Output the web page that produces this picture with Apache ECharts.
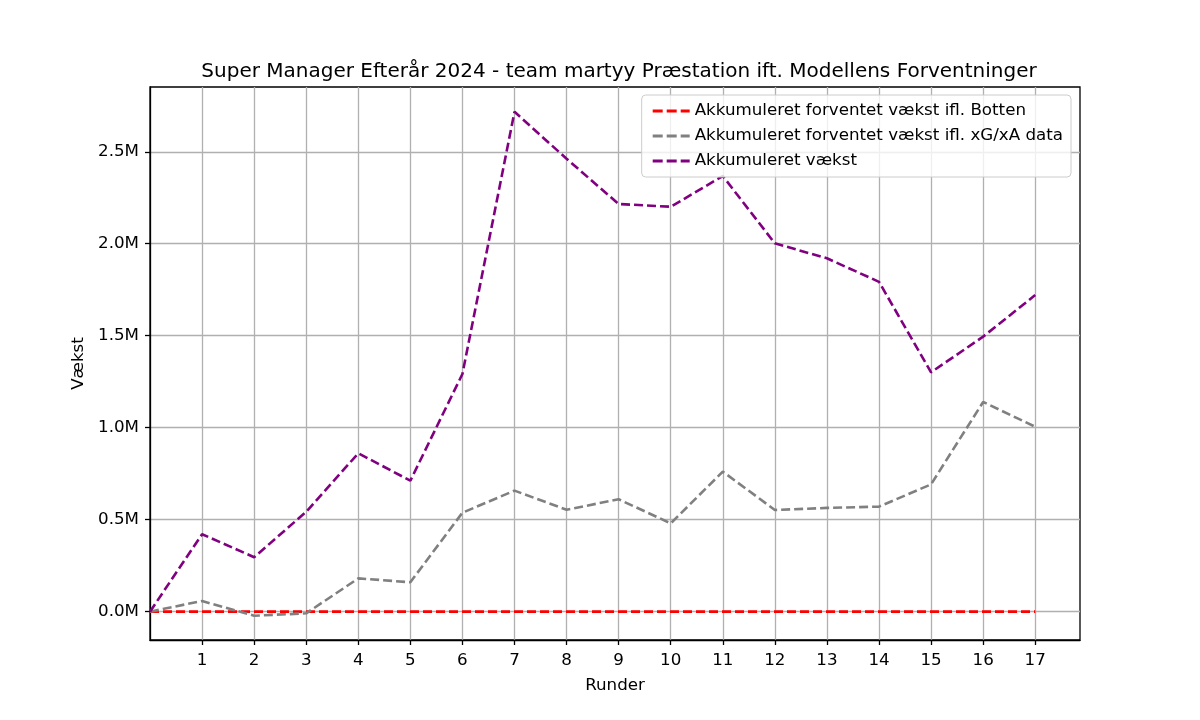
<!DOCTYPE html>
<html><head><meta charset="utf-8">
<script src="https://cdn.jsdelivr.net/npm/echarts@6/dist/echarts.min.js"></script>
<style>html,body{margin:0;padding:0;background:#fff}#c{width:1200px;height:720px}</style>
</head><body><div id="c"></div>
<script>
const rounds = [0,1,2,3,4,5,6,7,8,9,10,11,12,13,14,15,16,17];
const xTicks = [1,2,3,4,5,6,7,8,9,10,11,12,13,14,15,16,17];
const yTicks = [0,500000,1000000,1500000,2000000,2500000];
const botten = [0,0,0,0,0,0,0,0,0,0,0,0,0,0,0,0,0,0];
const xgxa = [0,58000,-22000,-9000,181000,160000,538000,658000,554000,611000,480000,761000,553000,564000,571000,692000,1140000,1005000];
const vaekst = [0,421000,296000,543000,861000,712000,1292000,2717000,2462000,2216000,2201000,2368000,2002000,1921000,1793000,1301000,1495000,1721000];
const seriesNames = ['Akkumuleret forventet vækst ifl. Botten','Akkumuleret forventet vækst ifl. xG/xA data','Akkumuleret vækst'];
const titleText = 'Super Manager Efterår 2024 - team martyy Præstation ift. Modellens Forventninger';

const font = 'DejaVu Sans';
const pair = arr => rounds.map((r,i)=>[r,arr[i]]);
const mk = (name, data, color) => ({
  name, type:'line', data: pair(data), symbol:'none', showSymbol:false,
  lineStyle:{color, width:2.6, type:[9,4]}, itemStyle:{color}, animation:false, z:3
});
const dashIcon = 'path://M0,0h10v3h-10z M14,0h10v3h-10z M28,0h9v3h-9z';
const chart = echarts.init(document.getElementById('c'), null, {renderer:'canvas'});
chart.setOption({
  animation:false,
  title:{text:titleText, left:614, top:57, textAlign:'center',
    textStyle:{fontFamily:font, fontSize:20, fontWeight:'normal', color:'#000'}},
  grid:{left:150, right:120, top:87, bottom:80, show:true, borderColor:'#000', borderWidth:1.3, backgroundColor:'transparent'},
  legend:{right:129, top:95, orient:'vertical', icon:dashIcon, itemWidth:37, itemHeight:3, itemGap:5,
    backgroundColor:'rgba(255,255,255,0.8)', borderColor:'#ccc', borderWidth:1, borderRadius:4,
    padding:[6,8,6,11], textStyle:{fontFamily:font, fontSize:16.7, color:'#000', lineHeight:20},
    data:seriesNames},
  xAxis:{type:'value', min:0, max:17.86, name:'Runder', nameLocation:'middle', nameGap:37,
    nameTextStyle:{fontFamily:font, fontSize:16.7, color:'#000'},
    axisLine:{show:true, onZero:false, lineStyle:{color:'#000', width:1.3}},
    axisTick:{show:true, length:5, customValues:xTicks, lineStyle:{color:'#000', width:1.3}},
    axisLabel:{fontFamily:font, fontSize:16.7, color:'#000', margin:12, customValues:xTicks,
      formatter:v=>String(v)},
    splitLine:{show:true, lineStyle:{color:'#b0b0b0', width:1.3}}},
  yAxis:{type:'value', min:-154000, max:2852000, name:'Vækst', nameLocation:'middle', nameGap:60,
    nameTextStyle:{fontFamily:font, fontSize:16.7, color:'#000'},
    axisLine:{show:true, onZero:false, lineStyle:{color:'#000', width:1.3}},
    axisTick:{show:true, length:5, customValues:yTicks, lineStyle:{color:'#000', width:1.3}},
    axisLabel:{fontFamily:font, fontSize:16.7, color:'#000', margin:11, customValues:yTicks,
      formatter:v=>(v/1e6).toFixed(1)+'M'},
    splitLine:{show:true, lineStyle:{color:'#b0b0b0', width:1.3}}},
  series:[mk(seriesNames[0], botten, '#ff0000'), mk(seriesNames[1], xgxa, '#808080'), mk(seriesNames[2], vaekst, '#800080')]
});
</script></body></html>
